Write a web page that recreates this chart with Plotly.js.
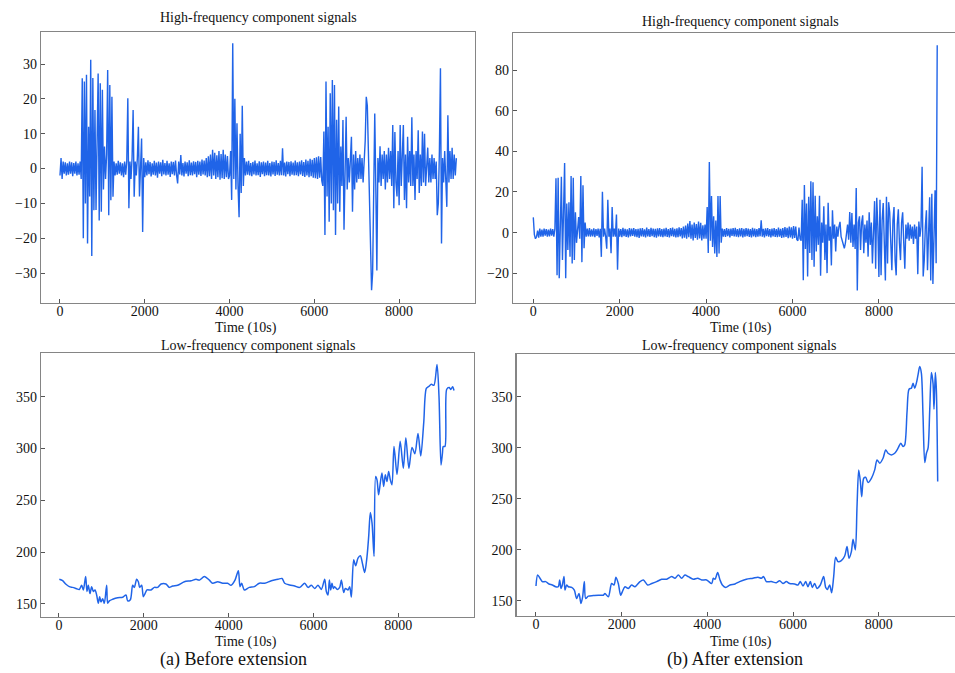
<!DOCTYPE html>
<html><head><meta charset="utf-8">
<script src="https://cdn.plot.ly/plotly-3.0.1.min.js"></script>
<style>html,body{margin:0;padding:0;overflow:hidden;background:#fff}</style>
</head><body><div id="chart" style="width:990px;height:673px"></div>
<script>
// ---------- data ----------
const HF_STEP = 25; // sampling step of the high-frequency series (units of 10 s)

const hfBefore = [
-2,3,-3,2,-1.5,1.8,-2,1.5,-1.8,2,-1.5,1.8,-2.2,1.6,-1.5,2,-2,1.5,-1.8,2,
-3,25.9,-20,25,-10,26.9,-21.5,12,-8,31.2,-25.1,26,-12,16.8,-11.9,8,27.3,-14.9,24.5,-12.4,
22.6,-6,6.3,-3,4,28.3,-13.4,24,-9.1,20.6,-8.1,2,-2,1.5,-1.8,2.2,-1.5,1.8,-2,1.5,
-2.5,2,-1.8,2,20.2,-11.4,2,-3,3,16.8,-8.1,2,-2,3,12,-8,2,8.6,-18.2,3,
-2.5,1.8,-2,2.4,-1.6,1.9,-2.3,1.5,-1.8,2.2,-2,1.7,-2.6,2,-1.5,1.8,-2.2,2.5,-1.7,1.6,
-2,2.2,-1.8,1.5,-2.4,2,-1.6,1.9,-2,2.3,-1.8,-4.3,2,-1.7,3.9,-2,1.6,-2.3,2,-1.5,
1.8,-2.2,2.4,-1.9,1.7,-2,2.1,-1.6,1.9,-2.5,2.2,-1.8,2,-2.1,2.6,-1.7,2.3,-2,3,-2.5,
3.5,-2.2,4,-3,5.4,-2,4.5,-3,3.8,-2.5,5,-3.2,4.2,-2.8,5.4,-3,4,-2.5,3.6,-3,
-2,5,-9,36,-3,20,-6,13,-5,-14,10,-7,18,-5,3,-2,2,-1.8,2.2,-2,
1.6,-2.2,1.9,-1.7,2.3,-2,1.5,-1.9,2.1,-2.4,1.8,-1.6,2,-2.2,1.7,-1.9,2.2,-2,1.6,-2.3,
2,-1.7,1.9,-2.1,2.4,-1.8,1.6,-2,2.2,-1.9,5.8,-2,1.7,-2.3,2,-1.6,1.9,-2.2,2.1,-1.8,
1.7,-2,2.3,-1.9,1.8,-2.2,2,-1.7,2.4,-2.1,1.9,-2.4,2.6,-2,2.2,-2.5,2.8,-2.2,2.5,-2.6,
3,-2.8,3.2,-3,3.5,-2.6,3.3,-3.5,-5,10.6,-19.1,25,-8,12,-15.3,21.6,-10,25.4,-12,24,
-19.1,14,-10,17.8,-12.4,6.3,-5,13.9,-17.6,4,14.9,-6,3,-4,5,9.1,-12.4,4,-6,5,
-4,3,-3,4,-3,3,-4,2,8,20.6,18,5,-10,-25,-34.9,-30,-5,15.8,-5,-29.3,
3,-4,6.4,-5,4,-3,5,-6,4,-4,6,-3,5,-5,12.5,-11.4,10.5,-4,-8,5,
-10.5,12.5,-5,4,12.5,-9,4,-11.4,9.1,-4,5,-5,14.7,-5,4,-9,5,-3,11,-7,
4,-5,10.6,-4,10,-5,3,6,-4,3,-4,4,-3,3,-3,2,-13.4,-10,5,28.8,
-21.5,3,-4,5,-3,-11,15.3,-4,5,-3,6,-3,4,-2,3
];

const hfAfter = [
7.5,-1,-3,-2,1,-2.5,2,-2,1.5,-2,2,-1.5,1.8,-2,1.5,-1.8,2,-1.5,1.8,-2,
2,26.7,-20.9,27,-22.4,5,27.5,-13.5,10,34.3,-22.4,14.3,-8.5,15,-11.8,27.8,-15.2,27,-13.5,10,
-5,3,7.7,-3,27.8,-14.5,23.3,-7.7,5,-2,2,-1.8,2.2,-2,1.6,-1.9,2.1,-2.2,1.8,-1.6,
2,-2.3,1.9,-11.9,20.1,-2,2,-2,-7.9,16.2,-2,2,-10.1,12.6,-2,2,-2,8.9,-18.2,2,
-2,1.8,-2.2,2.4,-1.7,1.9,-2.1,1.6,-2.4,2.2,-1.8,2,-1.6,2.3,-2,1.7,-2.2,1.9,-2.6,2.1,
-1.8,2.2,-2,1.6,-2.3,2.5,-1.9,1.8,-2.1,2.4,-1.7,2,-2.2,1.9,-2.5,2.1,-1.8,2.3,-2,1.7,
-2.2,2,-1.9,2.4,-2.1,1.8,-2.3,2.2,-1.7,2.5,-2,1.9,-2.4,2.1,-2.2,2.6,-1.9,2.3,-2.8,3,
-2.5,3.5,-3,4.5,-2.2,5.7,-3,4,-3.8,5,-2.6,4.2,-3.5,5.5,-2.8,4.8,-3.8,3.6,-3,4,
-3,12.6,-10,34.8,-4,18,-7,8,-10.3,6,-12,18,-10.3,18,-5,2,-2,1.8,-2.1,2.2,
-1.7,1.9,-2.3,2,-1.6,2.2,-1.9,2.4,-2,1.7,-2.2,2.1,-1.8,2.3,-2.4,1.9,-2,2.2,-1.7,2,
-2.1,1.8,-2.3,2.4,-1.9,2,-2.2,1.7,-2,2.3,-1.8,6.1,-2,1.9,-2.3,2.1,-1.7,2.2,-2,1.8,
-2.4,2,-1.9,2.3,-2.1,1.8,-2.2,2.5,-2,1.9,-2.6,2.2,-2.3,2.8,-2.1,2.4,-2.7,3,-2.4,2.6,
-3,3.2,-2.6,3,-3.4,-4,2.5,-3,-4,16.2,-23.4,23.4,-8,14.3,-21.5,17.6,-10,25.3,-13.4,24.8,
-16.8,18.1,-9.3,8,-6,18.1,-21.2,5,-5,13,-13.4,4,-19.9,14.7,-4,3,-16.1,11,-3,4,
-9.3,3,-2,3,5.3,-2,-4,-6,-7.7,-5,0,4,-3.5,10.1,-5,9.6,-7,4,-8,22,
-28.5,5,8,-8.5,5,8.5,-10.1,4,-5,6,-11.8,10,-6,5,-15.2,8,15.5,-17.8,17.2,3,
-21.8,16.2,-21,6,14.6,-5,-23.5,17.6,-15.2,15,10,-5,-18.5,6,12.6,-13.5,-21,4,11.5,-5,
-13.5,5,10,-5,-17.8,4,-3,5,-4,4,-3,3,-5.5,4,-3,3,-20.4,5.5,-2,3,
32.4,-21.5,-13.5,3,11,-18.5,3,17.4,-23.5,19.1,-25.2,5,20.8,-15,92.2
];

const lfBeforeX = [8,86,165,244,322,401,479,534,574,629,660,692,731,770,810,849,888,927,959,990,
1030,1069,1124,1148,1187,1266,1384,1502,1580,1619,1682,1737,1776,1831,1871,1902,1949,1988,2028,2075,
2169,2248,2327,2406,2523,2602,2680,2798,2956,3113,3231,3310,3427,3545,3624,3742,3860,3977,4056,4150,
4229,4268,4307,4370,4488,4606,4724,4850,5007,5164,5258,5321,5439,5557,5675,5793,5871,5950,6029,6107,
6186,6265,6304,6343,6375,6406,6437,6469,6500,6563,6618,6658,6713,6752,6815,6854,6893,6948,6995,7050,
7106,7153,7208,7263,7302,7341,7381,7428,7466,7498,7536,7575,7615,7655,7694,7733,7772,7812,7851,7899,
7970,8045,8119,8178,8250,8324,8390,8465,8530,8600,8661,8720,8780,8840,8913,8960,9007,9040,9060,9100,
9142,9200,9240,9280,9314];
const lfBeforeY = [173.8,172.5,169,166.7,166,165,164,168,163.5,176.4,162,168,160,166.7,162,163.5,158.7,150.6,157,152,
155,150.6,168,150.6,153,154.5,156,156.5,158.7,153,154,168,166,173.8,171.4,166,168,157,160,163.5,
163.5,166,166,169.3,169.3,166,167.3,168,171.4,172.4,173.8,173,176.4,173,170,171.4,170,170,168,173,
182,166.7,170,163.5,166,166.7,170,170,172.4,173.8,174.6,170,168.3,167.3,166,170,166,168,165,168,
164,173.8,162,158.7,173,163.5,170,165,166.7,164,166,173,161,165,163.5,166.7,156.6,192.6,186.8,194.3,
196.5,189.4,180.4,195.9,215.2,238.3,228,195.9,273,269.8,255.3,266.6,276.3,263.4,274.7,268.2,277.9,269.8,265,302,
275,307,281,310.5,281,301,295,314.6,292.7,325,358,360,362,361,381,350,284.1,295,301.9,302,
357.2,358.8,357,359.6,356];

const lfAfterX = [0,39,94,148,226,303,381,459,521,553,584,615,654,677,716,755,833,895,949,1004,
1050,1089,1128,1160,1222,1338,1455,1572,1611,1689,1766,1821,1867,1922,1976,2015,2077,2155,2233,2311,
2428,2506,2607,2700,2817,2934,3051,3167,3245,3323,3400,3478,3556,3673,3774,3868,3984,4101,4140,4179,
4241,4296,4350,4428,4529,4646,4754,4910,5065,5182,5260,5314,5377,5493,5610,5688,5766,5843,5921,6038,
6116,6170,6233,6295,6349,6404,6450,6505,6559,6637,6715,6762,6801,6855,6902,6949,6995,7050,7128,7206,
7261,7307,7362,7401,7455,7494,7533,7572,7603,7650,7696,7751,7829,7907,7961,8024,8101,8164,8218,8296,
8374,8452,8514,8568,8607,8662,8708,8763,8802,8840,8879,8918,8957,8996,9035,9075,9114,9152,9191,9230,
9268,9291,9322,9346,9377];
const lfAfterY = [164.4,175.2,172,168.7,168.7,166.4,165.4,163.7,163.7,170.3,162,165.4,173.6,160.4,165.4,163.7,163,160.4,152.2,157,
147.3,153.8,168.7,152.2,154.5,155,155.4,155.4,157,153.8,166.8,165.4,173,166.8,155.4,158.7,163.7,162,165.4,163.7,
168.7,170.3,165.4,166.8,168.7,171,171,173.6,172,175.2,172,175.2,173.6,171,172,170.3,170.3,166.8,172,171,
177.6,170.3,165.4,163,165.4,166.4,168.7,171,172,173,172,173.6,168.7,168.7,167.6,169.6,166.8,168.7,166.8,166.4,
165.4,168.7,164.4,168.7,163.7,168.7,163,166.8,162,165.4,173.6,163,161,165.4,157.9,173.6,192.5,188.3,189.3,193.8,
203,191.6,198.1,210.2,199.8,242.3,278.2,266.8,252,270,271,265.8,270,278.2,288,284.7,289.6,297.8,294.5,292.9,
294.5,299.5,304.4,301.1,302.7,335.4,357.3,358.3,363.2,358.3,363.2,371.4,379.5,373,330.5,285.4,294.5,299.5,337,373.6,
363.2,337.7,373.6,356.6,266.8];

const xTicks = [0, 2000, 4000, 6000, 8000];
const hfBeforeTicks = [-30, -20, -10, 0, 10, 20, 30];
const hfAfterTicks = [-20, 0, 20, 40, 60, 80];
const lfTicks = [150, 200, 250, 300, 350];
const titleHigh = 'High-frequency component signals';
const titleLow = 'Low-frequency component signals';
const xTitle = 'Time (10s)';
const captionA = '(a) Before extension';
const captionB = '(b) After extension';

// ---------- drawing ----------
const W = 990, H = 673;
const serif = 'Liberation Serif, Times New Roman, serif';
const blue = 'rgb(32,100,232)';
const hfTime = hfBefore.map((_, i) => i * HF_STEP);
const hfTimeB = hfAfter.map((_, i) => i * HF_STEP);
const xd = (a, b) => [a / W, b / W];
const yd = (top, bottom) => [1 - bottom / H, 1 - top / H];

function ax(domain, range, tickvals, anchor, isX) {
  const a = {
    domain, range, tickvals, anchor,
    tickmode: 'array', ticktext: tickvals.map(v => (v < 0 ? '\u2212' + Math.abs(v) : String(v))),
    showline: true, mirror: true, linecolor: '#858585', linewidth: 1.3,
    ticks: 'inside', ticklen: 4, tickwidth: 1, tickcolor: '#555',
    showgrid: false, zeroline: false,
    tickfont: { family: serif, size: 14, color: '#111' }
  };
  if (isX) a.ticklabelstandoff = -5;
  return a;
}

const traces = [
  { x: hfTime, y: hfBefore, xaxis: 'x', yaxis: 'y', type: 'scatter', mode: 'lines', line: { color: blue, width: 1.4 } },
  { x: hfTimeB, y: hfAfter, xaxis: 'x2', yaxis: 'y2', type: 'scatter', mode: 'lines', line: { color: blue, width: 1.4 } },
  { x: lfBeforeX, y: lfBeforeY, xaxis: 'x3', yaxis: 'y3', type: 'scatter', mode: 'lines', line: { color: blue, width: 1.5, shape: 'spline', smoothing: 0.8 } },
  { x: lfAfterX, y: lfAfterY, xaxis: 'x4', yaxis: 'y4', type: 'scatter', mode: 'lines', line: { color: blue, width: 1.5, shape: 'spline', smoothing: 0.8 } }
];

function ann(text, x, y, size) {
  return { text, x: x / W, y: 1 - y / H, xref: 'paper', yref: 'paper', xanchor: 'center', yanchor: 'middle',
           showarrow: false, font: { family: serif, size, color: '#111' } };
}

const layout = {
  width: W, height: H, margin: { l: 0, r: 0, t: 0, b: 0 },
  paper_bgcolor: '#fff', plot_bgcolor: '#fff', showlegend: false,
  xaxis: ax(xd(41, 475), [-448, 9790], xTicks, 'y', true),
  yaxis: ax(yd(32, 303), [-38.6, 39.2], hfBeforeTicks, 'x'),
  xaxis2: ax(xd(513, 958), [-470, 9831], xTicks, 'y2', true),
  yaxis2: ax(yd(33, 303), [-34.6, 98.2], hfAfterTicks, 'x2'),
  xaxis3: ax(xd(41, 474), [-424, 9785], xTicks, 'y3', true),
  yaxis3: ax(yd(353.3, 616.7), [137.7, 391.9], lfTicks, 'x3'),
  xaxis4: ax(xd(516.7, 958), [-450, 9851], xTicks, 'y4', true),
  yaxis4: ax(yd(354, 616), [135, 391.8], lfTicks, 'x4'),
  annotations: [
    ann(titleHigh, 258, 17.5, 14),
    ann(titleHigh, 740, 21, 14),
    ann(titleLow, 258, 346, 14),
    ann(titleLow, 739, 346, 14),
    ann(xTitle, 245.5, 328, 14),
    ann(xTitle, 741, 327.5, 14),
    ann(xTitle, 245.5, 641.5, 14),
    ann(xTitle, 740.5, 641.5, 14),
    ann(captionA, 233, 659, 18),
    ann(captionB, 734.5, 659, 18)
  ]
};

Plotly.newPlot('chart', traces, layout, { staticPlot: true, displayModeBar: false });
</script>
</body></html>
